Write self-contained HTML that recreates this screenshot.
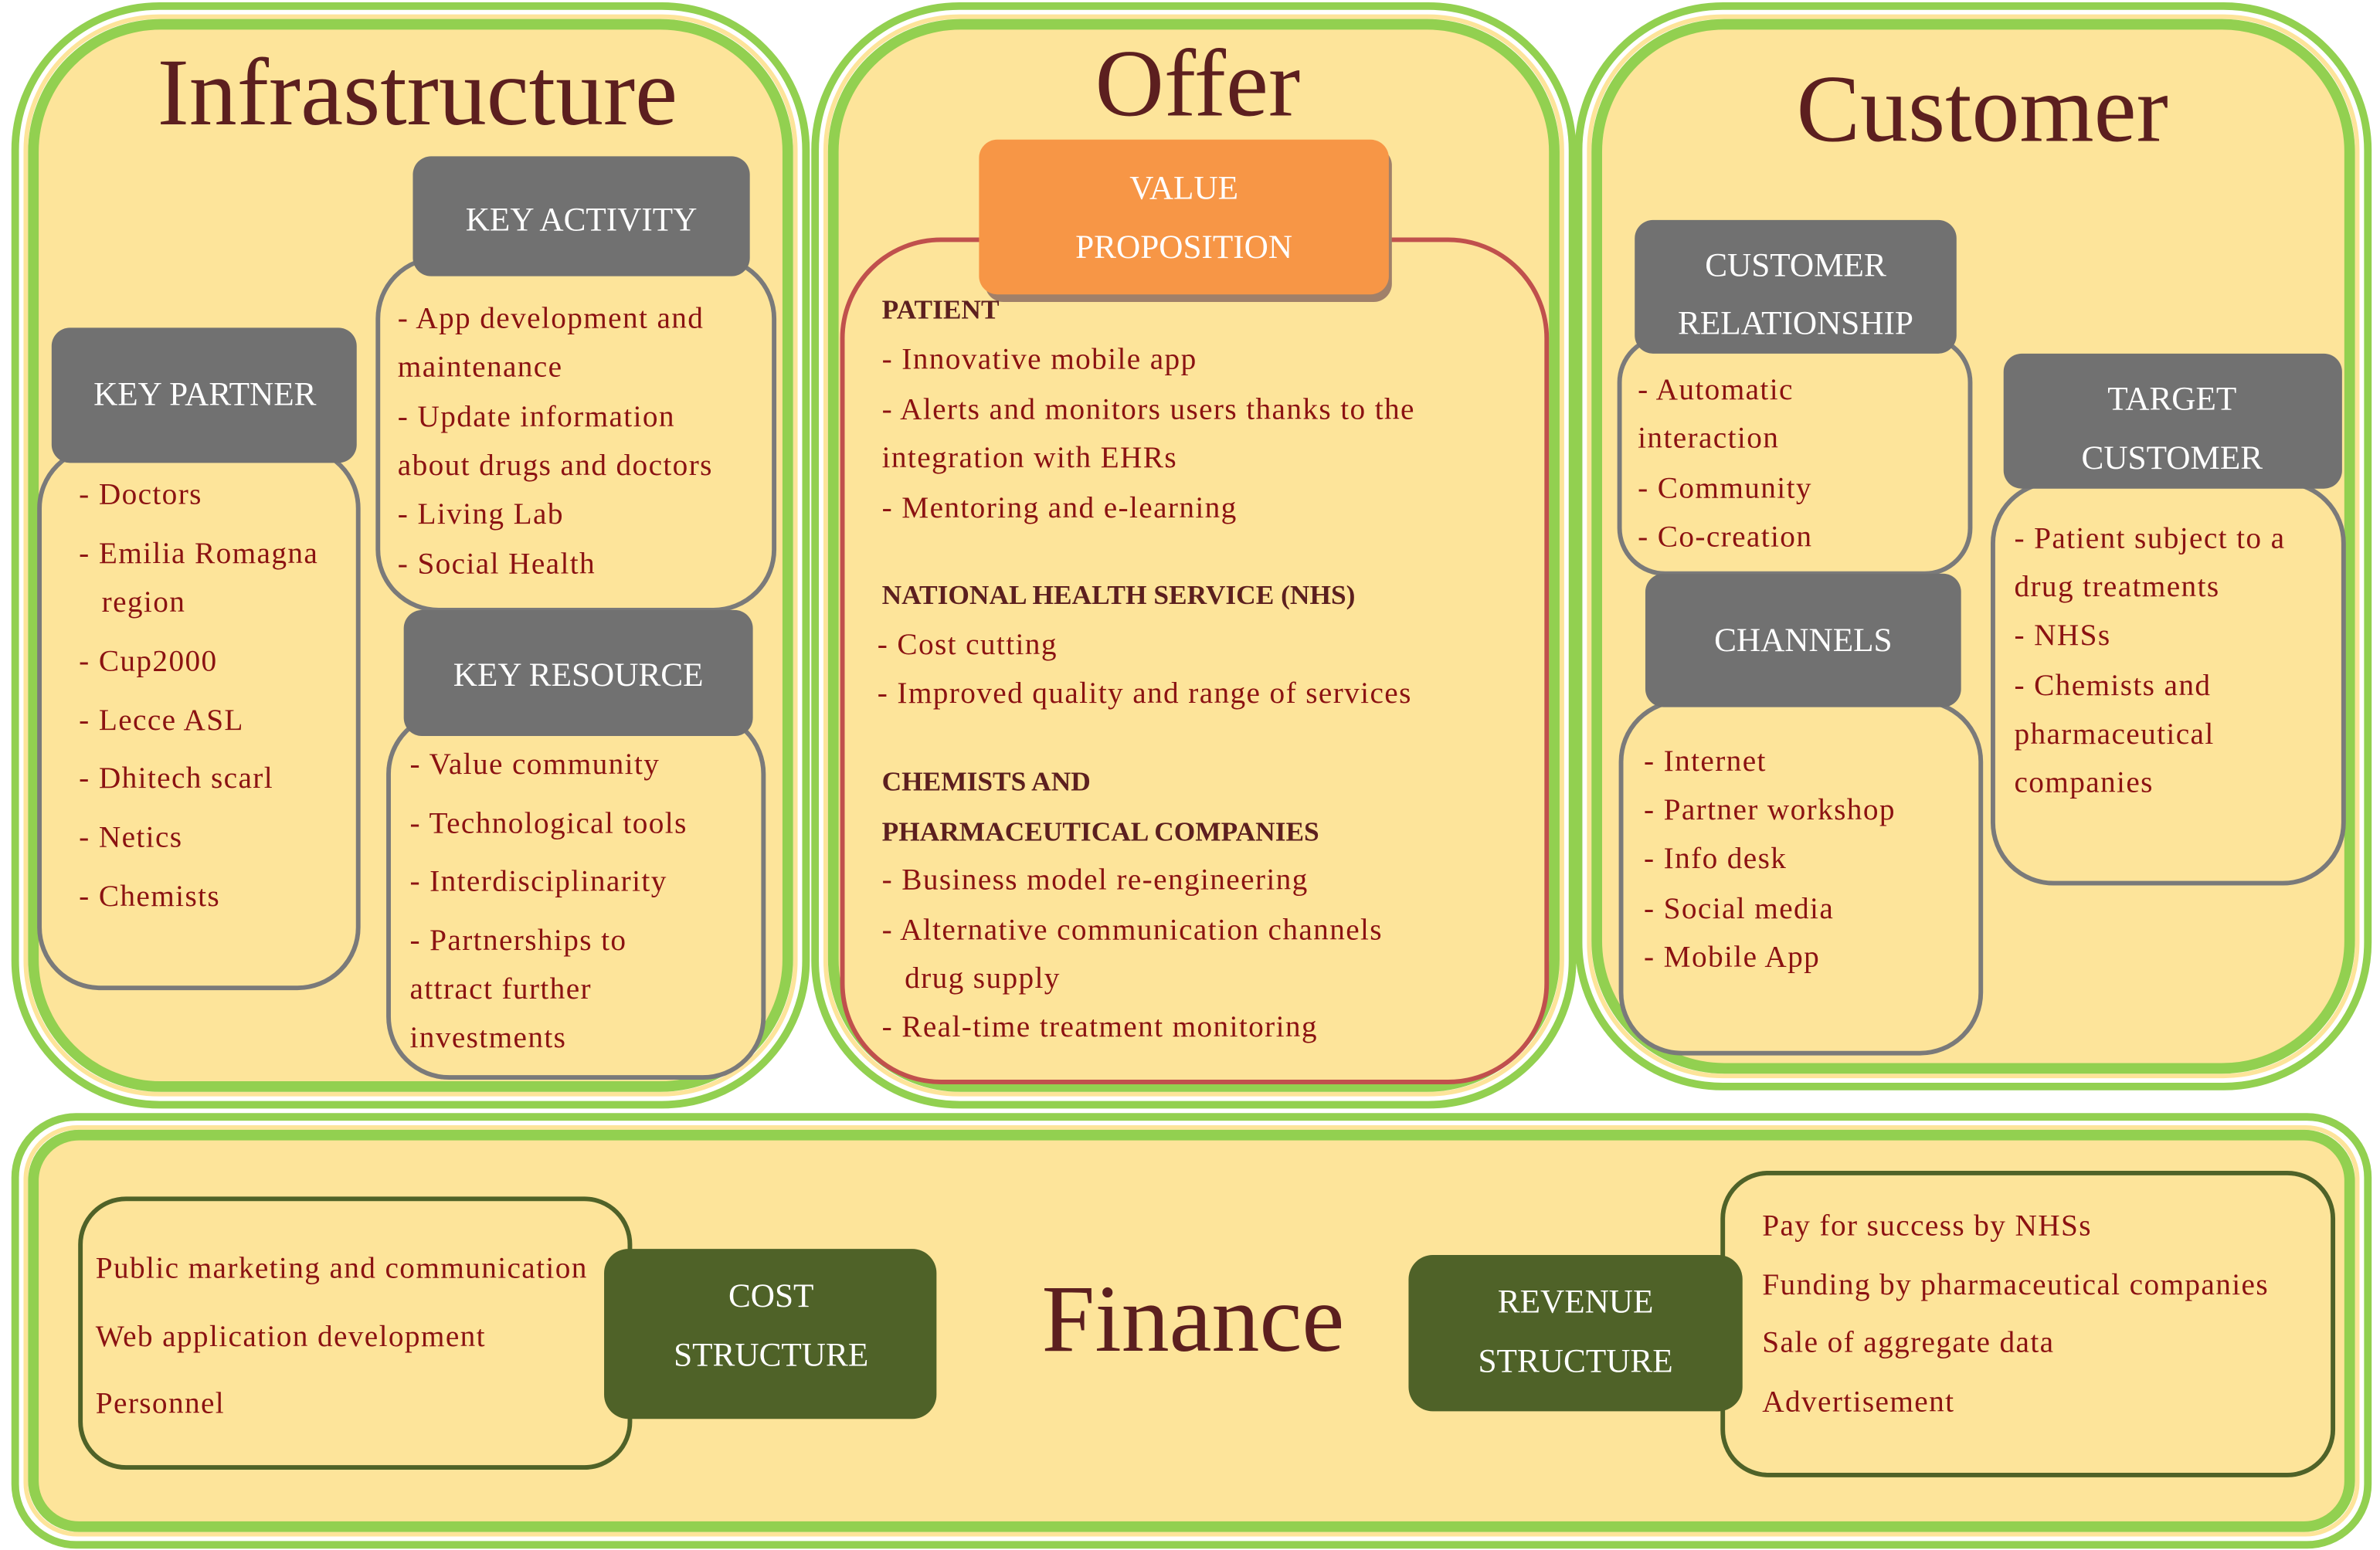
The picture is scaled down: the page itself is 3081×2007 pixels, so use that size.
<!DOCTYPE html>
<html><head><meta charset="utf-8"><style>
html,body{margin:0;padding:0;background:#fff;}
svg{display:block;}
text{font-family:"Liberation Serif",serif;}
.t{fill:#5c1f1f;font-size:63px;text-anchor:middle;}
.h{fill:#fff;font-size:22px;text-anchor:middle;}
.b{fill:#8b1212;font-size:20px;letter-spacing:0.7px;}
.bb{fill:#5c1f1f;font-size:18px;font-weight:bold;}
</style></head><body>
<svg width="3081" height="2007" viewBox="0 0 1568 1021.4" xmlns="http://www.w3.org/2000/svg">
<rect x="0" y="0" width="1568" height="1022" fill="#fff"/>
<g>
<rect x="10" y="4" width="521" height="724" rx="95" fill="#fff" stroke="#92d050" stroke-width="5"/>
<rect x="17" y="11" width="507" height="710" rx="88" fill="none" stroke="#fde49a" stroke-width="3"/>
<rect x="22" y="16" width="497" height="700" rx="84" fill="#fde49a" stroke="#92d050" stroke-width="7"/>

<rect x="537" y="4" width="499" height="724" rx="95" fill="#fff" stroke="#92d050" stroke-width="5"/>
<rect x="544" y="11" width="485" height="710" rx="88" fill="none" stroke="#fde49a" stroke-width="3"/>
<rect x="549" y="16" width="475" height="700" rx="84" fill="#fde49a" stroke="#92d050" stroke-width="7"/>

<rect x="1040" y="4" width="520" height="712" rx="95" fill="#fff" stroke="#92d050" stroke-width="5"/>
<rect x="1047" y="11" width="506" height="698" rx="88" fill="none" stroke="#fde49a" stroke-width="3"/>
<rect x="1052" y="16" width="496" height="688" rx="84" fill="#fde49a" stroke="#92d050" stroke-width="7"/>

<rect x="10" y="736" width="1550" height="282" rx="40" fill="#fff" stroke="#92d050" stroke-width="5"/>
<rect x="17" y="743" width="1536" height="268" rx="34" fill="none" stroke="#fde49a" stroke-width="3"/>
<rect x="22" y="748" width="1526" height="258" rx="30" fill="#fde49a" stroke="#92d050" stroke-width="7"/>
</g>

<text class="t" x="275" y="82">Infrastructure</text>
<text class="t" x="789" y="76">Offer</text>
<text class="t" x="1306" y="93">Customer</text>
<text class="t" x="786" y="890">Finance</text>

<rect x="249" y="170" width="261" height="232" rx="40" fill="#fde49a" stroke="#7a7a7a" stroke-width="3"/>
<rect x="272" y="103" width="222" height="79" rx="12" fill="#717171"/>
<text class="h" x="383" y="152">KEY ACTIVITY</text>
<text class="b" x="262" y="216">- App development and</text>
<text class="b" x="262" y="248">maintenance</text>
<text class="b" x="262" y="281">- Update information</text>
<text class="b" x="262" y="313">about drugs and doctors</text>
<text class="b" x="262" y="345">- Living Lab</text>
<text class="b" x="262" y="378">- Social Health</text>

<rect x="26" y="295" width="210" height="356" rx="40" fill="#fde49a" stroke="#7a7a7a" stroke-width="3"/>
<rect x="34" y="216" width="201" height="89" rx="12" fill="#717171"/>
<text class="h" x="135" y="267">KEY PARTNER</text>
<text class="b" x="52" y="332">- Doctors</text>
<text class="b" x="52" y="371">- Emilia Romagna</text>
<text class="b" x="67" y="403">region</text>
<text class="b" x="52" y="442">- Cup2000</text>
<text class="b" x="52" y="481">- Lecce ASL</text>
<text class="b" x="52" y="519">- Dhitech scarl</text>
<text class="b" x="52" y="558">- Netics</text>
<text class="b" x="52" y="597">- Chemists</text>

<rect x="256" y="470" width="247" height="240" rx="40" fill="#fde49a" stroke="#7a7a7a" stroke-width="3"/>
<rect x="266" y="402" width="230" height="83" rx="12" fill="#717171"/>
<text class="h" x="381" y="452">KEY RESOURCE</text>
<text class="b" x="270" y="510">- Value community</text>
<text class="b" x="270" y="549">- Technological tools</text>
<text class="b" x="270" y="587">- Interdisciplinarity</text>
<text class="b" x="270" y="626">- Partnerships to</text>
<text class="b" x="270" y="658">attract further</text>
<text class="b" x="270" y="690">investments</text>

<rect x="555" y="158" width="464" height="555" rx="65" fill="#fde49a" stroke="#c0504d" stroke-width="3"/>
<rect x="649" y="97" width="268" height="102" rx="12" fill="#a0806a"/>
<rect x="645" y="92" width="270" height="102" rx="12" fill="#f79646"/>
<text class="h" x="780" y="131">VALUE</text>
<text class="h" x="780" y="170">PROPOSITION</text>
<text class="bb" x="581" y="210">PATIENT</text>
<text class="b" x="581" y="243">- Innovative mobile app</text>
<text class="b" x="581" y="276">- Alerts and monitors users thanks to the</text>
<text class="b" x="581" y="308">integration with EHRs</text>
<text class="b" x="581" y="341">- Mentoring and e-learning</text>
<text class="bb" x="581" y="398">NATIONAL HEALTH SERVICE (NHS)</text>
<text class="b" x="578" y="431">- Cost cutting</text>
<text class="b" x="578" y="463">- Improved quality and range of services</text>
<text class="bb" x="581" y="521">CHEMISTS AND</text>
<text class="bb" x="581" y="554">PHARMACEUTICAL COMPANIES</text>
<text class="b" x="581" y="586">- Business model re-engineering</text>
<text class="b" x="581" y="619">- Alternative communication channels</text>
<text class="b" x="596" y="651">drug supply</text>
<text class="b" x="581" y="683">- Real-time treatment monitoring</text>

<rect x="1067" y="222" width="231" height="156" rx="30" fill="#fde49a" stroke="#7a7a7a" stroke-width="3"/>
<rect x="1077" y="145" width="212" height="88" rx="12" fill="#717171"/>
<text class="h" x="1183" y="182">CUSTOMER</text>
<text class="h" x="1183" y="220">RELATIONSHIP</text>
<text class="b" x="1079" y="263">- Automatic</text>
<text class="b" x="1079" y="295">interaction</text>
<text class="b" x="1079" y="328">- Community</text>
<text class="b" x="1079" y="360">- Co-creation</text>

<rect x="1068" y="462" width="237" height="232" rx="40" fill="#fde49a" stroke="#7a7a7a" stroke-width="3"/>
<rect x="1084" y="378" width="208" height="88" rx="12" fill="#717171"/>
<text class="h" x="1188" y="429">CHANNELS</text>
<text class="b" x="1083" y="508">- Internet</text>
<text class="b" x="1083" y="540">- Partner workshop</text>
<text class="b" x="1083" y="572">- Info desk</text>
<text class="b" x="1083" y="605">- Social media</text>
<text class="b" x="1083" y="637">- Mobile App</text>

<rect x="1313" y="318" width="231" height="264" rx="40" fill="#fde49a" stroke="#7a7a7a" stroke-width="3"/>
<rect x="1320" y="233" width="223" height="89" rx="12" fill="#717171"/>
<text class="h" x="1431" y="270">TARGET</text>
<text class="h" x="1431" y="309">CUSTOMER</text>
<text class="b" x="1327" y="361">- Patient subject to a</text>
<text class="b" x="1327" y="393">drug treatments</text>
<text class="b" x="1327" y="425">- NHSs</text>
<text class="b" x="1327" y="458">- Chemists and</text>
<text class="b" x="1327" y="490">pharmaceutical</text>
<text class="b" x="1327" y="522">companies</text>

<rect x="53" y="790" width="362" height="177" rx="30" fill="#fde49a" stroke="#4f6228" stroke-width="3"/>
<rect x="398" y="823" width="219" height="112" rx="16" fill="#4f6228"/>
<text class="h" x="508" y="861">COST</text>
<text class="h" x="508" y="900">STRUCTURE</text>
<text class="b" x="63" y="842">Public marketing and communication</text>
<text class="b" x="63" y="887">Web application development</text>
<text class="b" x="63" y="931">Personnel</text>

<rect x="1135" y="773" width="402" height="199" rx="30" fill="#fde49a" stroke="#4f6228" stroke-width="3"/>
<rect x="928" y="827" width="220" height="103" rx="16" fill="#4f6228"/>
<text class="h" x="1038" y="865">REVENUE</text>
<text class="h" x="1038" y="904">STRUCTURE</text>
<text class="b" x="1161" y="814">Pay for success by NHSs</text>
<text class="b" x="1161" y="853">Funding by pharmaceutical companies</text>
<text class="b" x="1161" y="891">Sale of aggregate data</text>
<text class="b" x="1161" y="930">Advertisement</text>
</svg>
</body></html>
